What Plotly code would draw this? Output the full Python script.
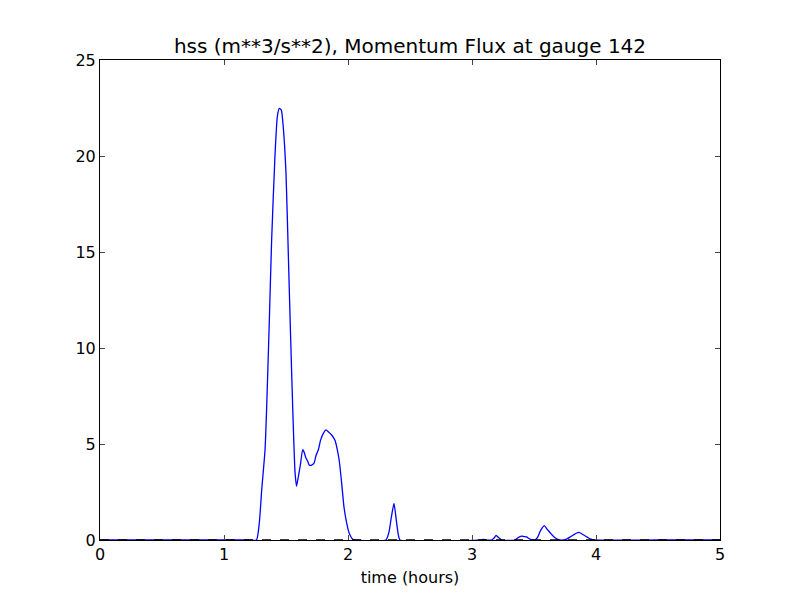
import plotly.graph_objects as go

time_hours = [0.0, 0.5, 1.0, 1.2, 1.262, 1.285, 1.304, 1.331, 1.344, 1.365, 1.384, 1.411, 1.430, 1.446, 1.462,
              1.478, 1.500, 1.519, 1.538, 1.554, 1.573, 1.585, 1.605, 1.618, 1.634, 1.645,
              1.659, 1.675, 1.688, 1.707, 1.726, 1.742, 1.761, 1.779, 1.801, 1.823, 1.841,
              1.868, 1.895, 1.914, 1.930, 1.949, 1.968, 1.990, 2.010, 2.037, 2.050,
              2.306, 2.330, 2.350, 2.371, 2.390, 2.405, 2.419,
              3.070, 3.090, 3.110, 3.158, 3.180, 3.194, 3.215, 3.239,
              3.347, 3.370, 3.400, 3.420, 3.440, 3.468, 3.508, 3.530, 3.548, 3.565, 3.583,
              3.607, 3.634, 3.669, 3.710, 3.763, 3.790, 3.817, 3.840, 3.863, 3.890, 3.911,
              3.957, 3.990, 4.5, 5.0]
flux = [0.0, 0.0, 0.0, 0.0, 0.0, 0.9, 2.6, 4.7, 6.9, 11.3, 15.6, 20.0, 22.05, 22.48, 22.4,
        21.5, 19.1, 14.8, 10.4, 6.9, 3.5, 2.8, 3.5, 4.0, 4.7, 4.6,
        4.3, 4.1, 3.9, 3.9, 4.0, 4.4, 4.7, 5.2, 5.55, 5.73, 5.64,
        5.47, 5.2, 4.7, 4.1, 2.95, 1.7, 0.87, 0.35, 0.04, 0.0,
        0.0, 0.4, 1.2, 1.91, 1.0, 0.3, 0.0,
        0.0, 0.03, 0.0, 0.0, 0.12, 0.24, 0.12, 0.0,
        0.0, 0.12, 0.2, 0.18, 0.16, 0.05, 0.0, 0.15, 0.43, 0.62, 0.75,
        0.55, 0.35, 0.12, 0.0, 0.05, 0.15, 0.26, 0.35, 0.40, 0.30, 0.22,
        0.05, 0.0, 0.0, 0.0]

x_ticks = [0, 1, 2, 3, 4, 5]
y_ticks = [0, 5, 10, 15, 20, 25]

fig = go.Figure()
fig.add_trace(go.Scatter(x=time_hours, y=flux, mode="lines", line_shape="spline",
                         line=dict(color="#0000ff", width=1.3, smoothing=0.5), showlegend=False))
fig.add_trace(go.Scatter(x=[x_ticks[0], x_ticks[-1]], y=[0, 0], mode="lines",
                         line=dict(color="black", width=1.3, dash="dash"), showlegend=False))

font = "DejaVu Sans, sans-serif"
fig.update_layout(
    width=800, height=600,
    paper_bgcolor="white", plot_bgcolor="white",
    margin=dict(l=92, r=88, t=52, b=68),
    font=dict(family=font, size=16, color="black"),
    title=dict(text="hss (m**3/s**2), Momentum Flux at gauge 142",
               x=0.5125 - 8 / 800, xanchor="center", y=1 - 38 / 600, yanchor="middle",
               font=dict(size=20, family=font)),
)
fig.update_xaxes(range=[0, 5], tickvals=x_ticks, ticks="inside", ticklen=5,
                 showline=True, linecolor="black", linewidth=1, mirror="ticks",
                 showgrid=False, zeroline=False,
                 title=dict(text="time (hours)", standoff=8, font=dict(size=16)))
fig.update_yaxes(range=[0, 25], tickvals=y_ticks, ticks="inside", ticklen=5,
                 showline=True, linecolor="black", linewidth=1, mirror="ticks",
                 showgrid=False, zeroline=False)

fig.write_html("out.html")
